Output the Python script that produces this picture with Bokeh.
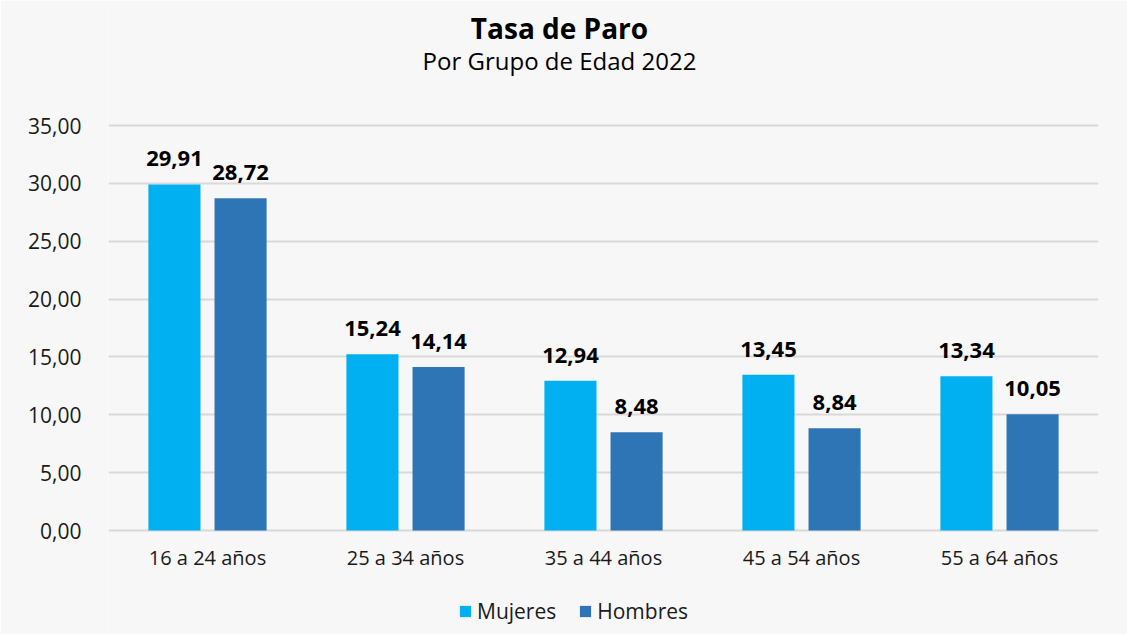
from bokeh.plotting import figure
from bokeh.models import (ColumnDataSource, FactorRange, Range1d, FixedTicker, LabelSet, Label,
                          Legend, LegendItem)
from bokeh.core.properties import value
from bokeh.transform import dodge
from bokeh.embed import file_html
from bokeh.resources import INLINE

categories = ["16 a 24 años", "25 a 34 años", "35 a 44 años", "45 a 54 años", "55 a 64 años"]
mujeres = [29.91, 15.24, 12.94, 13.45, 13.34]
hombres = [28.72, 14.14, 8.48, 8.84, 10.05]
y_ticks = [0, 5, 10, 15, 20, 25, 30, 35]
y_tick_labels = ["0,00", "5,00", "10,00", "15,00", "20,00", "25,00", "30,00", "35,00"]
title_text = "Tasa de Paro"
subtitle_text = "Por Grupo de Edad 2022"

FONT = "Open Sans"
BG = "#f7f7f7"
C_MUJ = "#00b0f0"
C_HOM = "#2e75b6"
TXT = "#1a1a1a"

# layout in pixels
W, H = 1127, 634
FRAME_L, FRAME_R = 108, 1098
Y_TOP_PX, Y_ZERO_PX = 125, 530          # pixel rows of the 35 and 0 gridlines
k = (Y_ZERO_PX - Y_TOP_PX) / y_ticks[-1]  # px per unit
y_hi = y_ticks[-1] + Y_TOP_PX / k
y_lo = -(H - Y_ZERO_PX) / k

def fmt(v):
    return f"{v:.2f}".replace(".", ",")

src = ColumnDataSource(dict(
    cat=categories,
    zero=[0] * len(categories),
    muj=mujeres,
    hom=hombres,
    muj_lab=[fmt(v) for v in mujeres],
    hom_lab=[fmt(v) for v in hombres],
))

p = figure(x_range=FactorRange(*categories), y_range=Range1d(y_lo, y_hi),
           width=W, height=H, output_backend="svg", toolbar_location=None,
           x_axis_location=None, title=None,
           min_border_left=FRAME_L, min_border_right=W - FRAME_R,
           min_border_top=0, min_border_bottom=0,
           background_fill_color=BG, border_fill_color=BG, outline_line_color=None)

r1 = p.vbar(x=dodge("cat", -0.167, range=p.x_range), top="muj", bottom=0, width=0.263,
            source=src, fill_color=C_MUJ, line_color=None)
r2 = p.vbar(x=dodge("cat", 0.167, range=p.x_range), top="hom", bottom=0, width=0.263,
            source=src, fill_color=C_HOM, line_color=None)

for xo, col, lab in [(-0.167, "muj", "muj_lab"), (0.167, "hom", "hom_lab")]:
    p.add_layout(LabelSet(x=dodge("cat", xo, range=p.x_range), y=col, text=lab, source=src,
                          text_align="center", text_baseline="alphabetic", y_offset=18,
                          text_font=value(FONT), text_font_size="22px",
                          text_font_style="bold", text_color="#000000"))

# category labels under the zero line
p.add_layout(LabelSet(x="cat", y="zero", text="cat", source=src,
                      text_align="center", text_baseline="middle", y_offset=-27,
                      text_font=value(FONT), text_font_size="20px", text_color=TXT))

# title and subtitle
cx = 559 - FRAME_L
p.add_layout(Label(x=cx, y=H - 27, x_units="screen", y_units="screen", text=title_text,
                   text_align="center", text_baseline="middle", text_font=FONT,
                   text_font_size="28px", text_font_style="bold", text_color="#000000"))
p.add_layout(Label(x=cx, y=H - 60, x_units="screen", y_units="screen", text=subtitle_text,
                   text_align="center", text_baseline="middle", text_font=FONT,
                   text_font_size="24px", text_color="#000000"))

# y axis
p.yaxis.ticker = FixedTicker(ticks=y_ticks)
p.yaxis.major_label_overrides = {t: l for t, l in zip(y_ticks, y_tick_labels)}
p.yaxis.axis_line_color = None
p.yaxis.major_tick_line_color = None
p.yaxis.minor_tick_line_color = None
p.yaxis.major_label_standoff = 21
p.yaxis.major_label_text_font = FONT
p.yaxis.major_label_text_font_size = "21px"
p.yaxis.major_label_text_color = TXT

p.xgrid.grid_line_color = None
p.ygrid.ticker = FixedTicker(ticks=y_ticks)
p.ygrid.grid_line_color = "#d9d9d9"
p.ygrid.grid_line_width = 2

legend = Legend(items=[LegendItem(label="Mujeres", renderers=[r1]),
                       LegendItem(label="Hombres", renderers=[r2])],
                orientation="horizontal", location=(350, 9),
                background_fill_alpha=0, border_line_color=None,
                label_text_font=FONT, label_text_font_size="21px", label_text_color=TXT,
                glyph_width=14, glyph_height=14, label_standoff=5, spacing=22,
                padding=4, margin=0)
p.add_layout(legend)

open("out.html", "w").write(file_html(p, INLINE))
